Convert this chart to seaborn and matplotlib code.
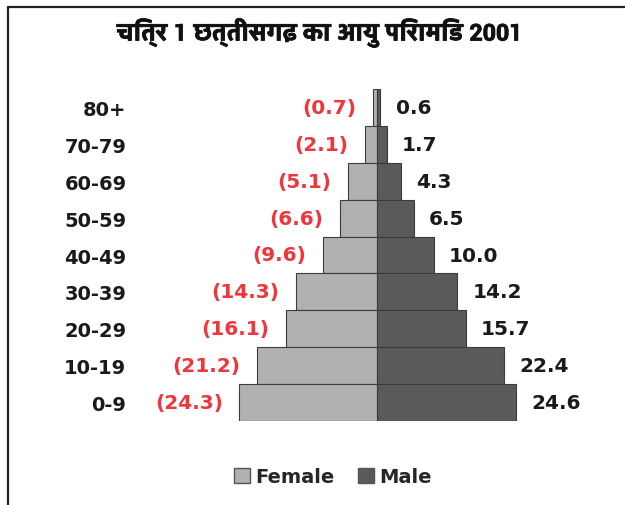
import matplotlib
matplotlib.use("Agg")
import matplotlib.pyplot as plt
import matplotlib.patheffects as pe
from matplotlib import font_manager
from matplotlib.ft2font import FT2Font
from matplotlib.lines import Line2D
from matplotlib.patches import Patch
import pandas as pd
import seaborn as sns

# data, top row first
ages = ["80+", "70-79", "60-69", "50-59", "40-49", "30-39", "20-29", "10-19", "0-9"]
female = [0.7, 2.1, 5.1, 6.6, 9.6, 14.3, 16.1, 21.2, 24.3]
male = [0.6, 1.7, 4.3, 6.5, 10.0, 14.2, 15.7, 22.4, 24.6]
title = "चित्र 1 छत्तीसगढ़ का आयु पिरामिड 2001"

df = pd.DataFrame({"age": ages, "Female": [-v for v in female], "Male": male})

sns.set_theme(style="white")

# look for an installed font that can draw devanagari, bold face preferred
deva = []
for f in font_manager.fontManager.ttflist:
    try:
        if ord("च") in FT2Font(f.fname).get_charmap():
            w = f.weight if isinstance(f.weight, int) else 400
            deva.append((w, f.name))
    except Exception:
        pass
deva.sort(reverse=True)
title_family = [deva[0][1], "DejaVu Sans"] if deva else ["DejaVu Sans"]
plt.rcParams["font.family"] = ["DejaVu Sans"]

fig = plt.figure(figsize=(6.25, 5.06), dpi=100)
ax = fig.add_axes([150 / 625, 84 / 506, 454 / 625, 332 / 506])

sns.barplot(data=df, y="age", x="Female", order=ages, orient="h", color="#b1b1b1",
            width=1.0, edgecolor="#3c3c3c", linewidth=0.8, ax=ax)
sns.barplot(data=df, y="age", x="Male", order=ages, orient="h", color="#5a5a5a",
            width=1.0, edgecolor="#3c3c3c", linewidth=0.8, ax=ax)

ax.set_xlim(-40.1, 40.1)
ax.set_ylim(8.5, -0.5)
ax.set_xticks([])
ax.set_xlabel("")
ax.set_ylabel("")
for s in ax.spines.values():
    s.set_visible(False)
ax.tick_params(axis="y", length=0, pad=17, labelsize=14)
for t in ax.get_yticklabels():
    t.set_fontweight("bold")
    t.set_color("#1a1a1a")

for i in range(len(ages)):
    ax.annotate(f"({female[i]:.1f})", (-female[i], i), xytext=(-12, 0), textcoords="offset points",
                ha="right", va="center", color="#f0353c", fontsize=14.5, fontweight="bold")
    ax.annotate(f"{male[i]:.1f}", (male[i], i), xytext=(11, 0), textcoords="offset points",
                ha="left", va="center", color="#1a1a1a", fontsize=14.5, fontweight="bold")

fig.text(320 / 625, 1 - 34 / 506, title, ha="center", va="center", fontsize=18.5,
         fontweight="bold", family=title_family, color="#111111",
         path_effects=[pe.withStroke(linewidth=0.6, foreground="#111111")])

handles = [Patch(facecolor="#b1b1b1", edgecolor="#555555", label="Female"),
           Patch(facecolor="#5a5a5a", edgecolor="#555555", label="Male")]
fig.legend(handles=handles, loc="center", bbox_to_anchor=(333 / 625, 1 - 478 / 506), ncol=2,
           frameon=False, handlelength=0.8, handleheight=0.8, handletextpad=0.3,
           columnspacing=1.2, prop={"weight": "bold", "size": 14})

# frame lines top and left
fig.add_artist(Line2D([8 / 625, 1], [1 - 8 / 506, 1 - 8 / 506], color="#222222", lw=1.6))
fig.add_artist(Line2D([8 / 625, 8 / 625], [0, 1 - 8 / 506], color="#222222", lw=1.6))

fig.savefig("out.png", dpi=100)
